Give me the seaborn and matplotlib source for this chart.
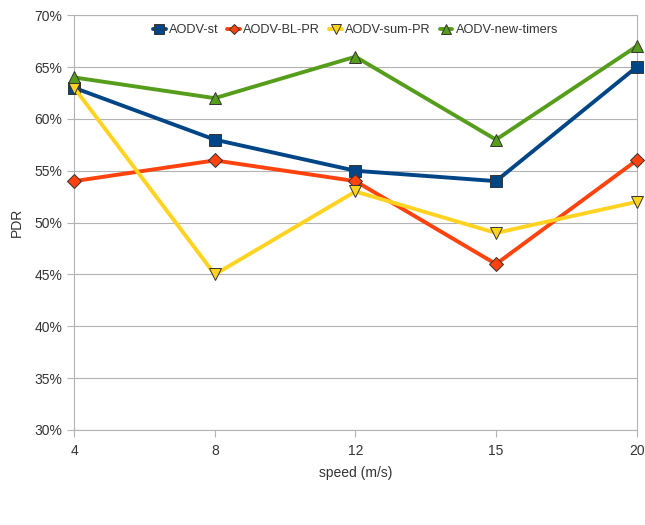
import seaborn as sns
import pandas as pd
import matplotlib.pyplot as plt
from matplotlib.ticker import PercentFormatter

speeds = ["4", "8", "12", "15", "20"]
aodv_st = [63, 58, 55, 54, 65]
aodv_bl_pr = [54, 56, 54, 46, 56]
aodv_sum_pr = [63, 45, 53, 49, 52]
aodv_new_timers = [64, 62, 66, 58, 67]

series_names = ["AODV-st", "AODV-BL-PR", "AODV-sum-PR", "AODV-new-timers"]
colors = ["#004586", "#ff420e", "#ffd320", "#579d1c"]
markers = ["s", "D", "v", "^"]
marker_sizes = [9, 7, 9, 9]

sns.set_style("white")
plt.rcParams["font.family"] = ["Liberation Sans", "DejaVu Sans"]

rows = []
for name, vals in zip(series_names, [aodv_st, aodv_bl_pr, aodv_sum_pr, aodv_new_timers]):
    for i, (s, v) in enumerate(zip(speeds, vals)):
        rows.append({"pos": i, "speed": s, "PDR": v, "series": name})
df = pd.DataFrame(rows)

fig = plt.figure(figsize=(6.45, 5.25), dpi=100)
ax = fig.add_axes([0.115, 0.181, 0.872, 0.79])

for name, c, m, ms in zip(series_names, colors, markers, marker_sizes):
    sub = df[df.series == name]
    sns.lineplot(data=sub, x="pos", y="PDR", ax=ax, color=c, linewidth=2.8,
                 marker=m, markersize=ms, markeredgecolor="#333333",
                 markeredgewidth=0.7, label=name, zorder=3, clip_on=False)

ax.set_xlim(0, len(speeds) - 1)
ax.set_ylim(30, 70)
ax.set_xticks(range(len(speeds)))
ax.set_xticklabels(speeds)
ax.set_yticks(range(30, 71, 5))
ax.yaxis.set_major_formatter(PercentFormatter(decimals=0))
ax.grid(axis="y", color="#b3b3b3", linewidth=0.8)
ax.grid(axis="x", visible=False)
for sp in ax.spines.values():
    sp.set_color("#b3b3b3")
    sp.set_linewidth(0.8)
ax.tick_params(axis="both", colors="#b3b3b3", labelcolor="#333333",
               labelsize=10, length=5, width=0.8, direction="out",
               left=True, bottom=True)
ax.tick_params(axis="x", pad=5)
ax.set_xlabel("speed (m/s)", fontsize=10, color="#333333", labelpad=6)
ax.set_ylabel("PDR", fontsize=10, color="#333333", labelpad=8)

ax.legend(loc="upper center", bbox_to_anchor=(0.5, 1.0), ncol=4, frameon=False,
          fontsize=9.2, handlelength=1.0, handletextpad=0.25, columnspacing=0.7,
          borderaxespad=0.3, labelcolor="#333333", markerscale=0.8)

fig.savefig("out.png", dpi=100, facecolor="white")
